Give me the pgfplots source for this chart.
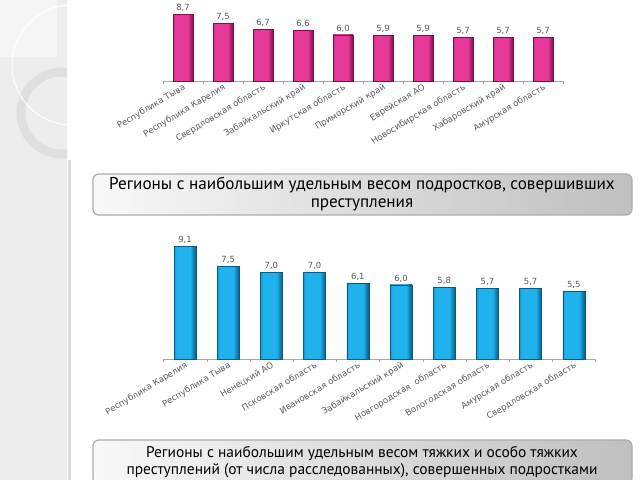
\documentclass[border=0pt]{standalone}
\usepackage{fontspec}
\setmainfont{Liberation Sans}
\newfontfamily\capfont{PT Sans}
\newfontfamily\lblfont{DejaVu Sans}
\usepackage{pgfplots}
\pgfplotsset{compat=1.18}
\definecolor{pinkL}{HTML}{C42480}
\definecolor{pinkM}{HTML}{E8399B}
\definecolor{pinkR}{HTML}{7E1049}
\definecolor{blueL}{HTML}{1496CF}
\definecolor{blueM}{HTML}{1FB2EC}
\definecolor{blueR}{HTML}{0A5A86}
\definecolor{lblgray}{HTML}{5A5A5A}
\definecolor{axgray}{HTML}{A8A8A8}
\pgfdeclarehorizontalshading{pinkbar}{100bp}{color(0bp)=(pinkL); color(25bp)=(pinkL); color(30bp)=(pinkM); color(62bp)=(pinkM); color(75bp)=(pinkR); color(100bp)=(pinkR)}
\pgfdeclarehorizontalshading{bluebar}{100bp}{color(0bp)=(blueL); color(25bp)=(blueL); color(30bp)=(blueM); color(62bp)=(blueM); color(75bp)=(blueR); color(100bp)=(blueR)}
\pgfplotsset{
  barchart/.style={
    scale only axis,
    xmin=-0.5, xmax=9.5, ymin=0, ymax=10,
    axis y line=none, axis x line*=bottom,
    x axis line style={axgray,-},
    xtick={0,...,9},
    major tick length=0pt,
    minor xtick={-0.5,0.5,...,9.5},
    minor tick length=3bp,
    tick align=outside,
    minor tick style={axgray},
    x tick label style={rotate=31, anchor=north east, font=\lblfont\fontsize{8.6}{10}\selectfont, text=lblgray, inner sep=1.5bp},
    ybar, bar shift=0pt, clip=false,
    nodes near coords,
    nodes near coords style={font=\lblfont\fontsize{8.5}{9}\selectfont, text=lblgray, inner sep=2.5bp},
    /pgf/number format/fixed, /pgf/number format/fixed zerofill, /pgf/number format/precision=1, /pgf/number format/use comma, /pgf/number format/assume math mode=true,
  },
  pbar/.style={draw=pinkR, line width=0.4bp, shading=pinkbar, bar shift=0pt},
  bbar/.style={draw=blueR, line width=0.4bp, shading=bluebar, bar shift=0pt},
}
\begin{document}
\begin{tikzpicture}
\path[use as bounding box] (0,0) rectangle (640bp,480bp);
\fill[white] (0,0) rectangle (640bp,480bp);
% left decorative strip
\fill[gray!14] (0,0) rectangle (67bp,480bp);
\fill[gray!8] (0,423bp) rectangle (57bp,480bp);
\begin{scope}
\clip (0,0) rectangle (67bp,480bp);
\draw[gray!25, line width=9bp] (62bp,367bp) circle (41bp);
\draw[white, line width=1bp] (72bp,415bp) circle (60bp);
\end{scope}
\fill[gray!30] (68bp,0) rectangle (71bp,320bp);
% top chart
\begin{axis}[barchart, at={(163bp,399bp)}, anchor=south west, width=400bp, height=77bp, bar width=20bp,
  xticklabels={Республика Тыва, Республика Карелия, Свердловская область, Забайкальский край, Иркутская область, Приморский край, Еврейская АО, Новосибирская область, Хабаровский край, Амурская область}]
\addplot[pbar] coordinates {(0,8.7)};
\addplot[pbar] coordinates {(1,7.5)};
\addplot[pbar] coordinates {(2,6.7)};
\addplot[pbar] coordinates {(3,6.6)};
\addplot[pbar] coordinates {(4,6.0)};
\addplot[pbar] coordinates {(5,5.9)};
\addplot[pbar] coordinates {(6,5.9)};
\addplot[pbar] coordinates {(7,5.7)};
\addplot[pbar] coordinates {(8,5.7)};
\addplot[pbar] coordinates {(9,5.7)};
\end{axis}
% bottom chart
\begin{axis}[barchart, at={(163.4bp,121bp)}, anchor=south west, width=432bp, height=123.5bp, bar width=22bp,
  xticklabels={Республика Карелия, Республика Тыва, Ненецкий АО, Псковская область, Ивановская область, Забайкальский край, Новгородская\ \ область, Вологодская область, Амурская область, Свердловская область}]
\addplot[bbar] coordinates {(0,9.1)};
\addplot[bbar] coordinates {(1,7.5)};
\addplot[bbar] coordinates {(2,7.0)};
\addplot[bbar] coordinates {(3,7.0)};
\addplot[bbar] coordinates {(4,6.1)};
\addplot[bbar] coordinates {(5,6.0)};
\addplot[bbar] coordinates {(6,5.8)};
\addplot[bbar] coordinates {(7,5.7)};
\addplot[bbar] coordinates {(8,5.7)};
\addplot[bbar] coordinates {(9,5.5)};
\end{axis}
% caption boxes
\draw[gray!65, line width=1.2bp, rounded corners=6bp, left color=gray!5, right color=gray!50] (93bp,265bp) rectangle (632bp,306bp);
\node[font=\capfont\fontsize{17.2}{19}\selectfont, text=black, align=center] at (362bp,285.5bp) {Регионы с наибольшим удельным весом подростков, совершивших\\[-1bp] преступления};
\draw[gray!65, line width=1.2bp, rounded corners=6bp, left color=gray!5, right color=gray!50] (93bp,-4bp) rectangle (632bp,40bp);
\node[font=\capfont\fontsize{15.5}{18}\selectfont, text=black, align=center] at (362bp,18bp) {Регионы с наибольшим удельным весом тяжких и особо тяжких\\[-1bp] преступлений (от числа расследованных), совершенных подростками};
\end{tikzpicture}
\end{document}
